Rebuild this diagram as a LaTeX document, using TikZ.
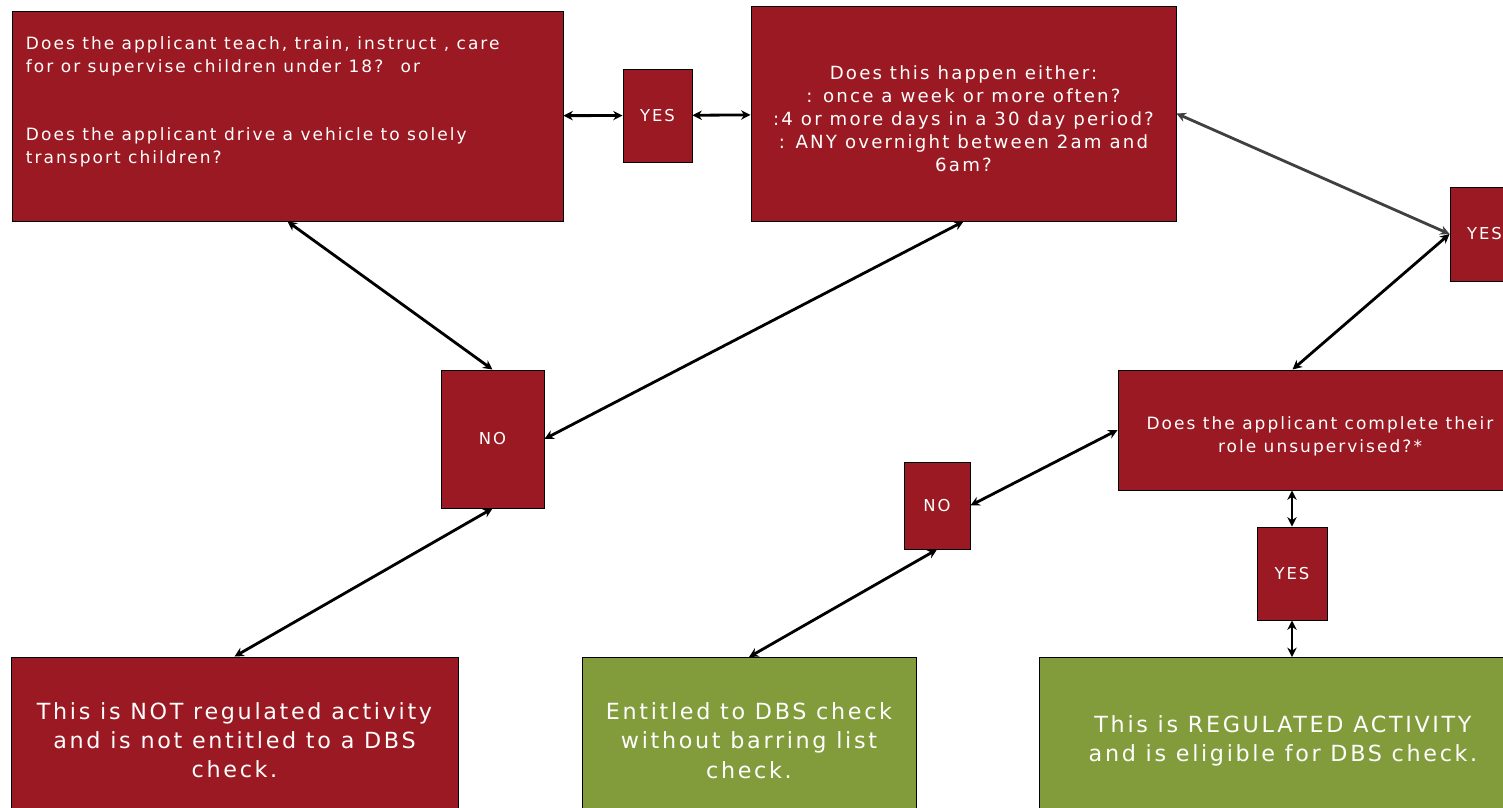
\documentclass[tikz,border=0pt]{standalone}
\usepackage{fontspec}
\setmainfont[LetterSpace=12]{DejaVu Sans}
\usepackage{tikz}
\usetikzlibrary{positioning,arrows.meta}
\definecolor{dbsred}{RGB}{155,25,34}
\definecolor{dbsgreen}{RGB}{130,156,60}
\definecolor{linegrey}{RGB}{64,64,64}
\tikzstyle{question} = [rectangle, draw=black, line width=0.8pt, fill=dbsred, text=white,
                        font=\fontsize{14.5}{19.6}\selectfont]
\tikzstyle{answer} = [rectangle, draw=black, line width=0.8pt, fill=dbsred, text=white,
                      minimum width=2.07cm, minimum height=2.79cm, font=\fontsize{14}{16}\selectfont]
\tikzstyle{outcome} = [rectangle, draw=black, line width=0.8pt, text=white, align=center,
                       minimum height=4.98cm, font=\fontsize{19}{25}\selectfont]
\tikzstyle{twoway} = [line width=2.4pt, {Stealth[length=8pt,width=8pt]}-{Stealth[length=8pt,width=8pt]}]

\begin{document}
\begin{tikzpicture}[x=0.03cm, y=-0.03cm]
            \useasboundingbox (0,0) rectangle (1503,807);
            \clip (0,0) rectangle (1503,807);

            % Questions
            \node (teach) [question, minimum width=16.53cm, minimum height=6.3cm, inner sep=0pt] at (287.5,116)
                {\parbox[c][4.77cm][t]{15.69cm}{\raggedright
                 Does the applicant teach, train, instruct , care\\
                 for or supervise children under 18?~ or\\[1.36cm]
                 Does the applicant drive a vehicle to solely\\
                 transport children?}};
            \node (often) [question, minimum width=12.75cm, minimum height=6.45cm, inner sep=0pt,
                font=\fontsize{15.5}{19.6}\selectfont] at (963.5,113.5)
                {\parbox[c][2.85cm][t]{12.3cm}{\centering
                 Does this happen either:\\
                 : once a week or more often?\\
                 :4 or more days in a 30 day period?\\
                 : ANY overnight between 2am and\\
                 6am?}};
            \node (alone) [question, minimum width=12.12cm, minimum height=3.6cm, inner sep=0pt] at (1320,430)
                {\parbox[c][0.81cm][t]{11.8cm}{\centering
                 Does the applicant complete their\\ role unsupervised?*}};

            % Answers
            \node (yesa) [answer] at (657.5,115.5) {YES};
            \node (yesb) [answer, minimum height=2.82cm] at (1484.5,234) {YES};
            \node (yesc) [answer, minimum width=2.1cm] at (1292,573.5) {YES};
            \node (noa) [answer, minimum width=3.09cm, minimum height=4.14cm] at (492.5,439) {NO};
            \node (nob) [answer, minimum width=1.98cm, minimum height=2.61cm] at (937,505.5) {NO};

            % Outcomes
            \node (notra) [outcome, fill=dbsred, minimum width=13.41cm] at (234.5,740)
                {This is NOT regulated activity\\ and is not entitled to a DBS\\ check.};
            \node (nobar) [outcome, fill=dbsgreen, minimum width=10.02cm] at (749,740.5)
                {Entitled to DBS check\\ without barring list\\ check.};
            \node (ra) [outcome, fill=dbsgreen, minimum width=14.64cm] at (1283,740.5)
                {This is REGULATED ACTIVITY\\ and is eligible for DBS check.};

            % Arrows
            \draw [twoway] (teach) -- (yesa);
            \draw [twoway] (yesa) -- (often);
            \draw [twoway] (teach.south) -- (noa.north);
            \draw [twoway] (often.south) -- (noa.east);
            \draw [twoway] (noa.south) -- (notra.north);
            \draw [twoway, draw=linegrey, color=linegrey] (often.east) -- (yesb.west);
            \draw [twoway] (yesb.west) -- ([xshift=5.25cm]alone.north west);
            \draw [twoway] (alone.west) -- (nob.east);
            \draw [twoway] (nob.south) -- (nobar.north);
            \draw [twoway] (alone.south -| yesc) -- (yesc.north);
            \draw [twoway] (yesc.south) -- (yesc.south |- ra.north);
\end{tikzpicture}
\end{document}
